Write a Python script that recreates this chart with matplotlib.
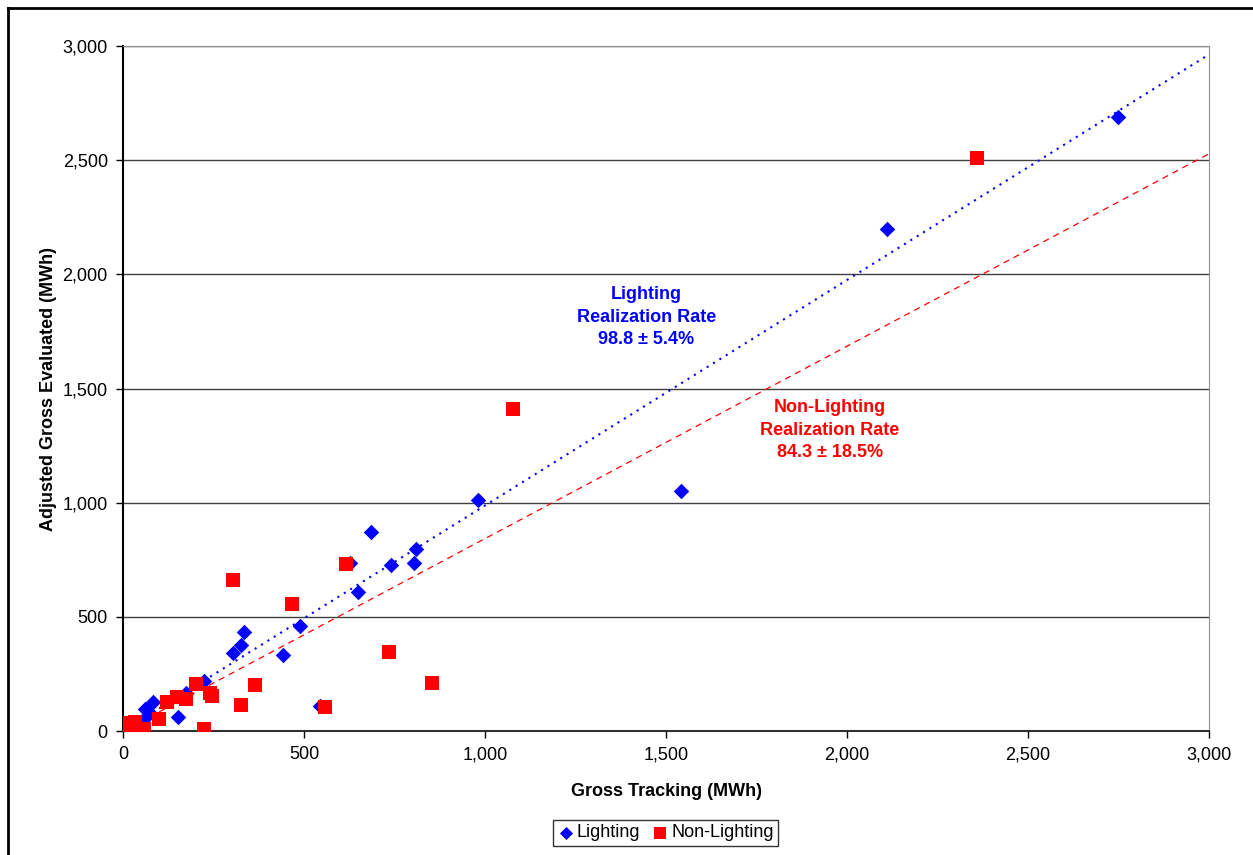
import matplotlib.pyplot as plt
import matplotlib.lines as mlines
from matplotlib.ticker import FuncFormatter, MultipleLocator

plt.rcParams['font.family'] = ['Liberation Sans', 'DejaVu Sans']

# Lighting projects (gross tracking, adjusted gross evaluated) in MWh
light_x = [0, 15, 30, 55, 61, 75, 83, 152, 174, 224, 305, 327, 335, 442, 490, 545,
           627, 650, 685, 740, 805, 808, 980, 1540, 2110, 2748]
light_y = [0, 10, 20, 48, 96, 79, 127, 61, 166, 217, 343, 378, 435, 335, 460, 108,
           736, 609, 870, 727, 736, 797, 1014, 1051, 2199, 2688]

# Non-lighting projects
nonl_x = [5, 8, 20, 33, 58, 99, 122, 149, 174, 201, 224, 240, 246, 305, 326, 365,
          467, 558, 616, 735, 854, 1078, 2358]
nonl_y = [35, 13, 25, 39, 9, 53, 127, 149, 140, 206, 9, 166, 153, 661, 114, 202,
          556, 105, 730, 346, 210, 1410, 2512]

# realization rates (trendline slopes through origin)
light_rate = 0.988
nonl_rate = 0.843
trend_x = [100, 3000]

fig = plt.figure(figsize=(12.53, 8.55), dpi=100)
ax = fig.add_axes([0.0982, 0.145, 0.8668, 0.801])

ax.plot(trend_x, [v * light_rate for v in trend_x], color='#0000FF', lw=1.5,
        linestyle=(0, (1.0, 2.6)), zorder=2)
ax.plot(trend_x, [v * nonl_rate for v in trend_x], color='#FF0000', lw=0.9,
        linestyle=(0, (5, 4)), zorder=2)

ax.scatter(light_x, light_y, marker='D', s=62, color='#0000FF', linewidths=0,
           zorder=3, label='Lighting')
ax.scatter(nonl_x, nonl_y, marker='s', s=90, color='#FF0000', linewidths=0,
           zorder=4, label='Non-Lighting')

ax.set_xlim(0, 3000)
ax.set_ylim(0, 3000)
ax.xaxis.set_major_locator(MultipleLocator(500))
ax.yaxis.set_major_locator(MultipleLocator(500))
fmt = FuncFormatter(lambda v, p: f'{int(v):,}')
ax.xaxis.set_major_formatter(fmt)
ax.yaxis.set_major_formatter(fmt)
ax.tick_params(labelsize=13, direction='out', length=5, width=1, pad=6)

ax.grid(axis='y', color='#404040', lw=1)
ax.set_axisbelow(True)
ax.spines['left'].set_color('black')
ax.spines['bottom'].set_color('#303030')
ax.spines['left'].set_linewidth(1.5)
ax.spines['bottom'].set_linewidth(1.5)
ax.spines['top'].set_color('#909090')
ax.spines['right'].set_color('#909090')

ax.set_xlabel('Gross Tracking (MWh)', fontsize=13, fontweight='bold', labelpad=14)
ax.set_ylabel('Adjusted Gross Evaluated (MWh)', fontsize=13, fontweight='bold', labelpad=4)

ax.text(1445, 1813, 'Lighting\nRealization Rate\n98.8 \u00b1 5.4%', color='#0000FF',
        fontsize=13, fontweight='bold', ha='center', va='center', linespacing=1.45)
ax.text(1953, 1318, 'Non-Lighting\nRealization Rate\n84.3 \u00b1 18.5%', color='#FF0000',
        fontsize=13, fontweight='bold', ha='center', va='center', linespacing=1.45)

leg = fig.legend(loc='center', bbox_to_anchor=(0.531, 0.026), ncol=2, fontsize=13,
                 frameon=True, fancybox=False, edgecolor='black', handletextpad=0.1,
                 columnspacing=0.6, borderpad=0.25, handlelength=1.0, markerscale=0.85)
leg.get_frame().set_linewidth(1)

# outer chart frame (left and top edges visible)
fig.add_artist(mlines.Line2D([8 / 1253, 8 / 1253], [0, 1 - 8 / 855], color='black', lw=2))
fig.add_artist(mlines.Line2D([8 / 1253, 1], [1 - 8 / 855, 1 - 8 / 855], color='black', lw=2))

fig.savefig('out.png', dpi=100)
